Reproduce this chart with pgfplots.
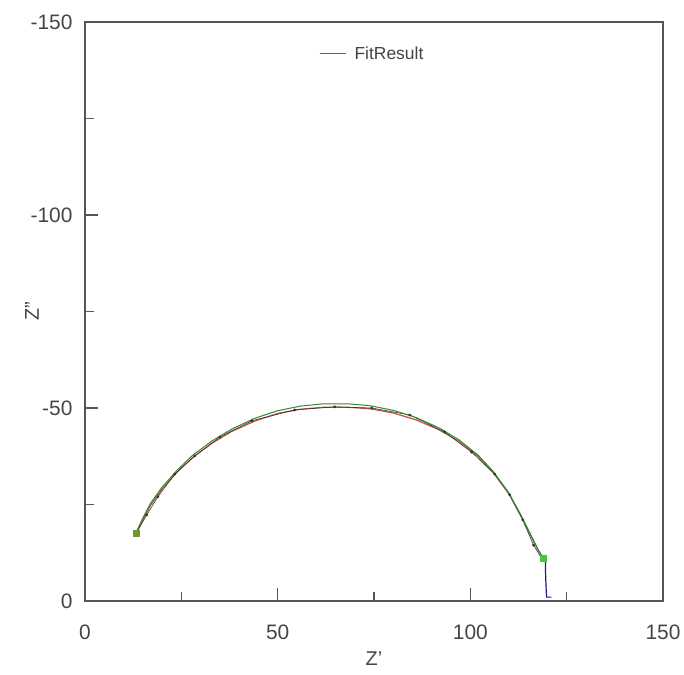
\documentclass[border=0pt]{standalone}
\usepackage{fontspec}
\setmainfont{Liberation Sans}
\usepackage{pgfplots}
\pgfplotsset{compat=1.18}
\definecolor{axgrey}{HTML}{555555}
\definecolor{txtgrey}{HTML}{444444}
\definecolor{fitgreen}{HTML}{2E8B2E}
\definecolor{fitred}{HTML}{C0504D}
\definecolor{sqolive}{HTML}{6B9A2A}
\definecolor{sqgreen}{HTML}{3CCB3C}
\definecolor{navy}{HTML}{1A1A8A}
\begin{document}
\begin{tikzpicture}[x=1bp,y=1bp]
\begin{axis}[
  scale only axis, width=578bp, height=579bp,
  xmin=0, xmax=150, ymin=-150, ymax=0, y dir=reverse,
  xtick={0,50,100,150}, ytick={-150,-100,-50,0},
  minor xtick={25,75,125}, minor ytick={-125,-75,-25},
  tick align=inside, xtick pos=bottom, ytick pos=left,
  major tick length=13bp, minor tick length=9bp,
  axis line style={axgrey, line width=1.4bp},
  every tick/.style={axgrey, line width=1.2bp},
  tick label style={font=\fontsize{21}{24}\selectfont, text=txtgrey},
  /pgf/number format/assume math mode=true,
  xticklabel style={yshift=-20bp},
  yticklabel style={xshift=-9bp},
  xlabel={Z'}, ylabel={Z''},
  label style={font=\fontsize{20}{23}\selectfont, text=txtgrey},
  xlabel style={yshift=-6bp},
  ylabel style={yshift=-15bp},
  legend style={draw=none, fill=none, at={(0.4,0.945)}, anchor=west,
    font=\fontsize{17.5}{20}\selectfont, text=txtgrey},
  legend cell align=left,
  legend image code/.code={\draw[fitgreen, line width=1.2bp] (0bp,0bp) -- (26bp,0bp);},
  clip=false,
]
\addplot[fitred, line width=1.2bp, forget plot] coordinates {
(13.2,-17.4) (15,-21) (17,-24.8) (20,-29) (24,-33.5) (28,-37.2) (33,-40.9)
(38,-43.9) (44,-46.6) (50,-48.6) (56,-49.7) (62,-50.2) (68,-50.2) (74,-49.8)
(80,-48.7) (86,-46.9) (92,-44.3) (97,-41.4) (102,-37.5) (106,-33.2)
(110,-27.8) (113,-22.3) (115.5,-17.3) (117.5,-13.3) (119,-11)
};
\addplot[black!80, line width=0.6bp, mark=*, mark size=1.1bp, forget plot] coordinates {
(13.2,-17.4) (16,-22.3) (18.9,-27) (23.3,-32.9) (28.5,-37.6) (35,-42.5)
(43.3,-46.7) (54.4,-49.5) (64.8,-50.3) (74.4,-50) (84.3,-48.2) (93.3,-43.8)
(100.3,-38.6) (106.3,-32.9) (110.2,-27.5) (113.6,-21) (116.4,-14.5) (118.5,-11)
};
\addplot[fitgreen, line width=1bp] coordinates {
(13.2,-17.6) (15,-21.5) (17,-25.3) (20,-29.5) (24,-34) (28,-37.8) (33,-41.5)
(38,-44.5) (44,-47.3) (50,-49.3) (56,-50.5) (62,-51.1) (68,-51.1) (74,-50.6)
(80,-49.4) (86,-47.5) (92,-44.8) (97,-41.8) (102,-37.8) (106,-33.5)
(110,-28) (113,-22.5) (115.5,-17.5) (117.5,-13.5) (119,-11)
};
\addlegendentry{\hspace{6bp}FitResult}
\addplot[navy, line width=1.2bp, forget plot] coordinates {
(119.5,-10.8) (119.5,-8) (119.6,-5) (119.7,-2.5) (119.8,-1) (121,-1)
};
\addplot[only marks, mark=square*, mark size=3bp, mark options={fill=sqolive, draw=sqolive}, forget plot] coordinates {(13.2,-17.6)};
\addplot[only marks, mark=square*, mark size=3bp, mark options={fill=sqgreen, draw=sqgreen}, forget plot] coordinates {(119,-11)};
\end{axis}
\path (-85bp,-74bp) rectangle (599bp,601bp);
\end{tikzpicture}
\end{document}
